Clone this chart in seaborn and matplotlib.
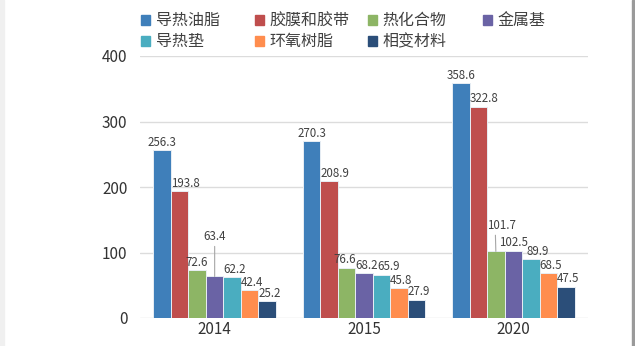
import matplotlib
matplotlib.use("Agg")
import matplotlib.pyplot as plt
import seaborn as sns
import pandas as pd
from matplotlib.patches import Rectangle

years = ["2014", "2015", "2020"]
materials = ["导热油脂", "胶膜和胶带", "热化合物", "金属基", "导热垫", "环氧树脂", "相变材料"]
values = {
    "导热油脂": [256.3, 270.3, 358.6],
    "胶膜和胶带": [193.8, 208.9, 322.8],
    "热化合物": [72.6, 76.6, 101.7],
    "金属基": [63.4, 68.2, 102.5],
    "导热垫": [62.2, 65.9, 89.9],
    "环氧树脂": [42.4, 45.8, 68.5],
    "相变材料": [25.2, 27.9, 47.5],
}
colors = ["#3F7FBA", "#BF4E4D", "#8DB565", "#6A63A5", "#4AADC0", "#FF8D4E", "#2B4E79"]
y_ticks = [0, 100, 200, 300, 400]

rows = []
for m in materials:
    for y, v in zip(years, values[m]):
        rows.append({"year": y, "material": m, "value": v})
df = pd.DataFrame(rows)

sns.set_theme(style="white")
plt.rcParams["font.family"] = ["Noto Sans CJK SC", "DejaVu Sans"]

fig = plt.figure(figsize=(6.35, 3.46), dpi=100)
ax = fig.add_axes([140/635, 1-318/346, 448/635, 262/346])

sns.barplot(data=df, x="year", y="value", hue="material", order=years,
            hue_order=materials, palette=colors, saturation=1, width=0.82, ax=ax,
            edgecolor="#E8EEF4", linewidth=0.7, legend=False, errorbar=None)

ax.set_ylim(0, 400)
ax.set_yticks(y_ticks)
ax.set_xlim(-0.5, 2.5)
ax.set_xlabel("")
ax.set_ylabel("")
ax.yaxis.grid(True, color="#DCDCDC", linewidth=1.0)
ax.set_axisbelow(True)
for s in ax.spines.values():
    s.set_visible(False)
ax.tick_params(axis="y", labelsize=11, colors="#333333", length=0, pad=9)
ax.tick_params(axis="x", labelsize=11, colors="#333333", length=0, pad=2)

# data labels (small nudges mimic the source's label placement)
lifted = {(0, "金属基"): (0, 22, 0.5), (2, "热化合物"): (4, 12, 0.29)}
nudge = {(1, "热化合物"): -3.0, (1, "金属基"): 0.0, (1, "导热垫"): 3.5,
         (2, "金属基"): -4.0, (2, "导热垫"): 3.0, (0, "热化合物"): -2.5}
FS = 8.3
for ci, m in enumerate(materials):
    cont = ax.containers[ci]
    for xi, bar in enumerate(cont.patches):
        v = values[m][xi]
        cx = bar.get_x() + bar.get_width() / 2
        top = bar.get_height()
        if (xi, m) in lifted:
            dx, lift, rp = lifted[(xi, m)]
            ax.annotate(f"{v}", xy=(cx, top), xytext=(dx, lift + 2),
                        textcoords="offset points", ha="center", va="bottom",
                        fontsize=FS, color="#404040", zorder=10,
                        arrowprops=dict(arrowstyle="-", color="#A6A6A6", lw=0.8,
                                        shrinkA=0, shrinkB=0, relpos=(rp, 0)))
        elif ci == 0:
            ax.annotate(f"{v}", xy=(cx, top), xytext=(0, 1),
                        textcoords="offset points", ha="center", va="bottom",
                        fontsize=FS, color="#404040", zorder=10)
        else:
            ax.annotate(f"{v}", xy=(bar.get_x(), top),
                        xytext=(nudge.get((xi, m), 0), 1),
                        textcoords="offset points", ha="left", va="bottom",
                        fontsize=FS, color="#404040", zorder=10)

# legend: four fixed-width columns
handles = [Rectangle((0, 0), 1, 1, color=c) for c in colors]
columns = [[0, 4], [1, 5], [2, 6], [3]]
col_x = [135, 249, 362, 477]
for cx_, idx in zip(col_x, columns):
    fig.legend([handles[i] for i in idx], [materials[i] for i in idx],
               loc="upper left", bbox_to_anchor=(cx_/635, 1 - 6/346), ncol=1,
               frameon=False, fontsize=11.5, handlelength=0.55, handleheight=0.55,
               handletextpad=0.35, labelspacing=0.25, borderaxespad=0,
               labelcolor="#404040")

# frame decorations
fig.patches.append(Rectangle((0, 0), 4/635, 1, transform=fig.transFigure,
                             color="#F0F0F0", zorder=0))
fig.patches.append(Rectangle((632/635, 0), 2/635, 1, transform=fig.transFigure,
                             color="#9A9A9A", zorder=0))

fig.savefig("out.png", dpi=100)
